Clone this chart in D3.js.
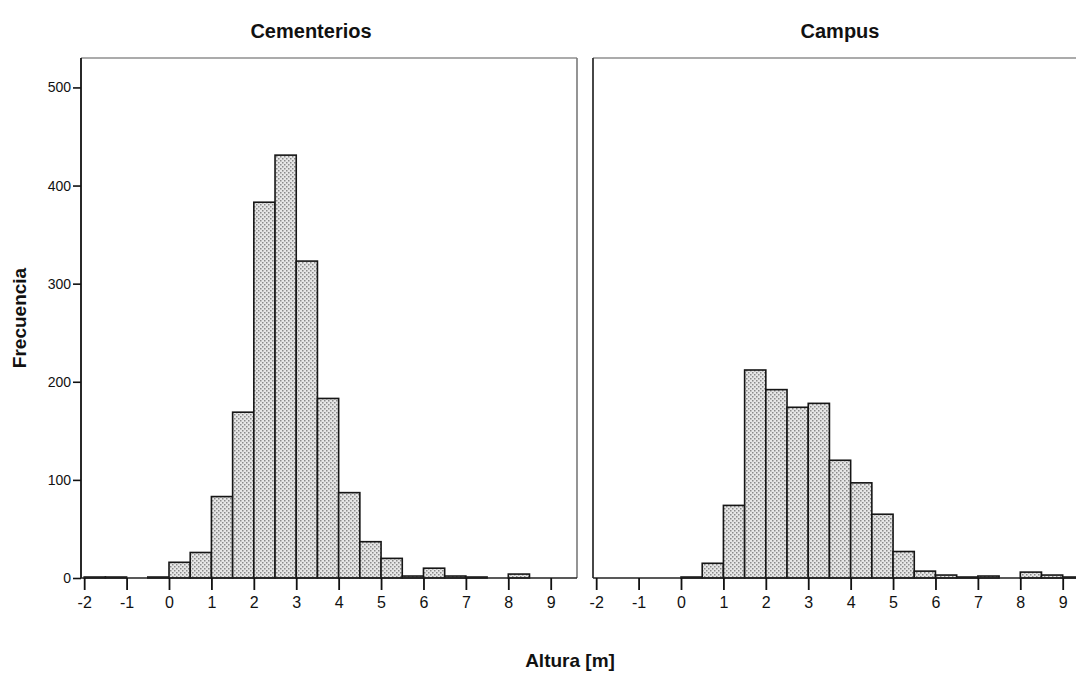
<!DOCTYPE html>
<html>
<head>
<meta charset="utf-8">
<script src="https://cdn.jsdelivr.net/npm/d3@7"></script>
<style>
  html, body { margin: 0; padding: 0; background: #fff; }
  svg { display: block; }
  text { font-family: "Liberation Sans", Arial, sans-serif; fill: #111; }
</style>
</head>
<body>
<svg id="chart" width="1076" height="673"></svg>
<script>
// ---- data ----
const binStarts = [-2, -1.5, -1, -0.5, 0, 0.5, 1, 1.5, 2, 2.5, 3, 3.5, 4, 4.5, 5, 5.5, 6, 6.5, 7, 7.5, 8, 8.5, 9];
const binWidth = 0.5;
const panelTitles = ["Cementerios", "Campus"];
const cementeriosCounts = [1, 1, 0, 1, 16, 26, 83, 169, 383, 431, 323, 183, 87, 37, 20, 2, 10, 2, 1, 0, 4, 0, 0];
const campusCounts = [0, 0, 0, 0, 1, 15, 74, 212, 192, 174, 178, 120, 97, 65, 27, 7, 3, 1, 2, 0, 6, 3, 1];
const xTicks = [-2, -1, 0, 1, 2, 3, 4, 5, 6, 7, 8, 9];
const yTicks = [0, 100, 200, 300, 400, 500];
const yLabel = "Frecuencia";
const xLabel = "Altura [m]";

(function () {
// ---- layout ----
const svg = d3.select("#chart");
const plotTop = 58, plotBottom = 578;
const panels = [
  { title: panelTitles[0], counts: cementeriosCounts, x0: 81, x1: 577, titleX: 311 },
  { title: panelTitles[1], counts: campusCounts, x0: 593, x1: 1089, titleX: 840 }
];
const y = d3.scaleLinear().domain([0, 530]).range([plotBottom, plotTop]);

// stipple pattern
const defs = svg.append("defs");
const pat = defs.append("pattern").attr("id", "stipple")
  .attr("patternUnits", "userSpaceOnUse").attr("width", 4).attr("height", 4);
pat.append("rect").attr("width", 4).attr("height", 4).attr("fill", "#e6e6e6");
pat.append("rect").attr("x", 0).attr("y", 0).attr("width", 1.5).attr("height", 1.5).attr("fill", "#8a8a8a");
pat.append("rect").attr("x", 2).attr("y", 2).attr("width", 1.5).attr("height", 1.5).attr("fill", "#8a8a8a");

panels.forEach((p, i) => {
  const x = d3.scaleLinear().domain([-2.075, 9.62]).range([p.x0, p.x1]);
  const g = svg.append("g");

  // frame: top and right (gray), left (dark)
  g.append("line").attr("x1", p.x0).attr("x2", p.x1).attr("y1", plotTop).attr("y2", plotTop)
    .attr("stroke", "#8f8f8f").attr("stroke-width", 1.6);
  g.append("line").attr("x1", p.x1).attr("x2", p.x1).attr("y1", plotTop).attr("y2", plotBottom)
    .attr("stroke", "#7a7a7a").attr("stroke-width", 1.6);
  g.append("line").attr("x1", p.x0).attr("x2", p.x0).attr("y1", plotTop).attr("y2", plotBottom)
    .attr("stroke", i === 0 ? "#111" : "#333").attr("stroke-width", 1.8);

  // bars
  const data = binStarts.map((b, k) => ({ b, c: p.counts[k] }));
  g.selectAll("rect.bar").data(data.filter(d => d.c > 0)).join("rect")
    .attr("class", "bar")
    .attr("x", d => x(d.b))
    .attr("width", d => x(d.b + binWidth) - x(d.b))
    .attr("y", d => y(d.c))
    .attr("height", d => y(0) - y(d.c))
    .attr("fill", "url(#stipple)")
    .attr("stroke", "#161616").attr("stroke-width", 1.6);

  // bottom axis
  const xAxis = d3.axisBottom(x).tickValues(xTicks).tickSize(12).tickPadding(7)
    .tickFormat(d3.format("d"));
  const ax = g.append("g").attr("transform", `translate(0,${plotBottom})`).call(xAxis);
  ax.select(".domain").attr("stroke", "#222").attr("stroke-width", 1.6)
    .attr("d", `M${p.x0},0H${p.x1}`);
  ax.selectAll(".tick line").attr("stroke", "#111").attr("stroke-width", 1.8);
  ax.selectAll(".tick text").attr("font-size", 16).attr("fill", "#111")
    .attr("font-family", "\"Liberation Sans\", Arial, sans-serif")
    .text(d => d < 0 ? "-" + Math.abs(d) : d);

  // left axis for first panel
  if (i === 0) {
    const yAxis = d3.axisLeft(y).tickValues(yTicks).tickSize(8).tickPadding(2);
    const ay = g.append("g").attr("transform", `translate(${p.x0},0)`).call(yAxis);
    ay.select(".domain").remove();
    ay.selectAll(".tick line").attr("stroke", "#111").attr("stroke-width", 1.6);
    ay.selectAll(".tick text").attr("font-size", 14).attr("fill", "#111")
      .attr("font-family", "\"Liberation Sans\", Arial, sans-serif");
  }

  // title
  svg.append("text").attr("x", p.titleX).attr("y", 38)
    .attr("text-anchor", "middle").attr("font-size", 20).attr("font-weight", "bold")
    .text(p.title);
});

// axis titles
svg.append("text").attr("transform", "translate(26,318) rotate(-90)")
  .attr("text-anchor", "middle").attr("font-size", 19).attr("font-weight", "bold")
  .text(yLabel);
svg.append("text").attr("x", 570).attr("y", 667)
  .attr("text-anchor", "middle").attr("font-size", 19).attr("font-weight", "bold")
  .text(xLabel);
})();
</script>
</body>
</html>
